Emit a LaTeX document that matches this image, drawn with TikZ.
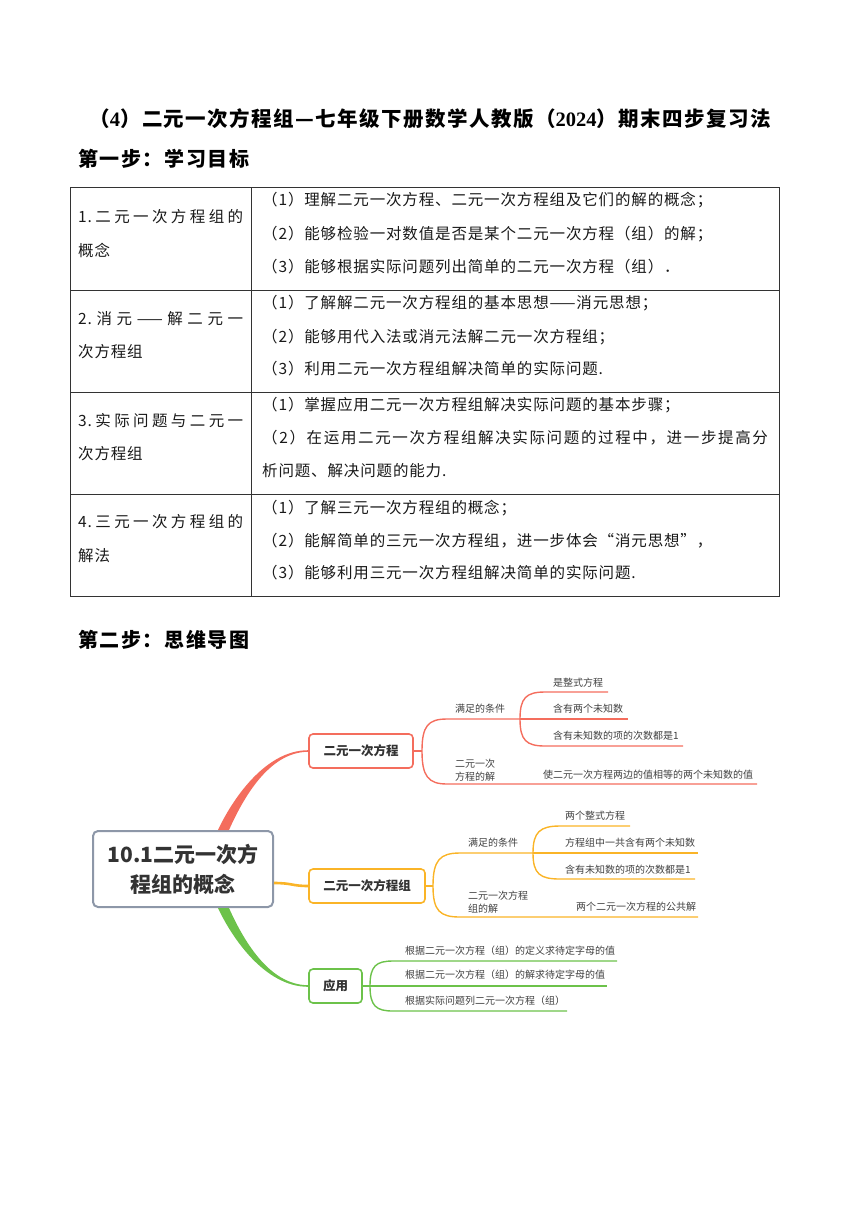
\documentclass[tikz,border=0pt]{standalone}
\usepackage{fontspec}
\setmainfont{Noto Sans CJK SC}
\newfontfamily\serifnum{Liberation Serif}
\usetikzlibrary{calc}
\definecolor{cred}{HTML}{F46D5D}
\definecolor{corg}{HTML}{FAB427}
\definecolor{cgrn}{HTML}{6CC24A}
\definecolor{cgray}{HTML}{8D97A8}
\definecolor{ctxt}{HTML}{333333}
\tikzset{
 tline/.style={draw=black!80, line width=0.8pt},
 ttext/.style={anchor=west, inner sep=0pt, font=\fontsize{15.5}{18}\selectfont\addfontfeature{LetterSpace=5.5}, text=black!90},
 head/.style={anchor=west, inner sep=0pt, font=\fontsize{20}{24}\selectfont\bfseries\addfontfeature{LetterSpace=8}},
 branch/.style={draw=#1, line width=1.6pt, rounded corners=4pt, fill=white, minimum height=34pt, inner sep=0pt, font=\fontsize{12.5}{14}\selectfont\bfseries, text=ctxt},
 sub/.style={line width=1.4pt, draw=#1},
 lbl/.style={anchor=west, inner sep=0pt, font=\fontsize{10}{13}\selectfont, text=black!75, align=left},
}
\begin{document}
\begin{tikzpicture}[x=1pt,y=-1pt]
\useasboundingbox (0,0) rectangle (860,1216);
% title and headings
\node[inner sep=0pt, font=\fontsize{20.5}{24}\selectfont\bfseries\addfontfeature{LetterSpace=7}] (title) at (430,119) {（{\serifnum 4}）二元一次方程组—七年级下册数学人教版（{\serifnum 2024}）期末四步复习法};
\node[head] (h1) at (78,159) {第一步：学习目标};
\node[head] (h2) at (78,640) {第二步：思维导图};
% table
\draw[tline] (70,187) rectangle (779,596);
\draw[tline] (251,187) -- (251,596);
\foreach \yy in {290,392,494} \draw[tline] (70,\yy) -- (779,\yy);
% left column
\node[ttext] (l1a) at (78,217) {\makebox[165pt][s]{1.\hfill 二\hfill 元\hfill 一\hfill 次\hfill 方\hfill 程\hfill 组\hfill 的}};
\node[ttext] (l1b) at (78,250) {概念};
\node[ttext] (l2a) at (78,319) {\makebox[165pt][s]{2.\hfill 消\hfill 元\hfill ——\hfill 解\hfill 二\hfill 元\hfill 一}};
\node[ttext] (l2b) at (78,352) {次方程组};
\node[ttext] (l3a) at (78,421) {\makebox[165pt][s]{3.\hfill 实\hfill 际\hfill 问\hfill 题\hfill 与\hfill 二\hfill 元\hfill 一}};
\node[ttext] (l3b) at (78,454) {次方程组};
\node[ttext] (l4a) at (78,522) {\makebox[165pt][s]{4.\hfill 三\hfill 元\hfill 一\hfill 次\hfill 方\hfill 程\hfill 组\hfill 的}};
\node[ttext] (l4b) at (78,556) {解法};
% right column
\node[ttext] (r11) at (262,200) {（1）理解二元一次方程、二元一次方程组及它们的解的概念；};
\node[ttext] (r12) at (262,234) {（2）能够检验一对数值是否是某个二元一次方程（组）的解；};
\node[ttext] (r13) at (262,267) {（3）能够根据实际问题列出简单的二元一次方程（组）．};
\node[ttext] (r21) at (262,303) {（1）了解解二元一次方程组的基本思想——消元思想；};
\node[ttext] (r22) at (262,337) {（2）能够用代入法或消元法解二元一次方程组；};
\node[ttext] (r23) at (262,369) {（3）利用二元一次方程组解决简单的实际问题.};
\node[ttext] (r31) at (262,405) {（1）掌握应用二元一次方程组解决实际问题的基本步骤；};
\node[ttext, font=\fontsize{15.5}{18}\selectfont\addfontfeature{LetterSpace=10.6}] (r32) at (262,438) {（2）在运用二元一次方程组解决实际问题的过程中，进一步提高分};
\node[ttext] (r33) at (262,471) {析问题、解决问题的能力.};
\node[ttext] (r41) at (262,508) {（1）了解三元一次方程组的概念；};
\node[ttext] (r42) at (262,541) {（2）能解简单的三元一次方程组，进一步体会“消元思想”，};
\node[ttext] (r43) at (262,573) {（3）能够利用三元一次方程组解决简单的实际问题.};
% mind map nodes
\node[draw=cgray, line width=2pt, rounded corners=5pt, fill=white, minimum width=180pt, minimum height=76pt, inner sep=0pt, align=center, text=ctxt, font=\fontsize{21}{30}\selectfont\bfseries] (c) at (183,869) {10.1二元一次方\\程组的概念};
\node[branch=cred, minimum width=104pt] (b1) at (361,751) {二元一次方程};
\node[branch=corg, minimum width=116pt] (b2) at (367,886) {二元一次方程组};
\node[branch=cgrn, minimum width=53pt] (b3) at (335.5,986) {应用};
% main connectors
\fill[cred] ([xshift=35pt]c.north) .. controls (232,800) and (265,750.2) .. ([yshift=0.8pt]b1.west) -- ([yshift=-0.8pt]b1.west) .. controls (268,751.8) and (242,801) .. ([xshift=46pt]c.north) -- cycle;
\fill[cgrn] ([xshift=35pt]c.south) .. controls (232,938) and (265,986.8) .. ([yshift=-0.8pt]b3.west) -- ([yshift=0.8pt]b3.west) .. controls (268,985.2) and (242,937) .. ([xshift=46pt]c.south) -- cycle;
\draw[corg, line width=2.6pt] ([yshift=-14pt]c.east) .. controls (292,883) and (292,886) .. (b2.west);
% red sub-branches
\coordinate (rf) at (422,751);
\coordinate (rf2) at (520,719);
\draw[sub=cred] (b1.east) -- (rf);
\draw[sub=cred] (rf) .. controls (422,726) and (428,719) .. (447,719) -- (rf2);
\draw[sub=cred] (rf) .. controls (422,776) and (428,784) .. (447,784) -- (757,784);
\draw[sub=cred] (rf2) .. controls (520,698) and (526,692) .. (545,692) -- (608,692);
\draw[sub=cred] (rf2) -- (628,719);
\draw[sub=cred] (rf2) .. controls (520,740) and (526,746) .. (545,746) -- (683,746);
\node[lbl] (rl1) at (455,709) {满足的条件};
\node[lbl] (rl2) at (455,770) {二元一次\\方程的解};
\node[lbl] (rt1) at (553,683) {是整式方程};
\node[lbl] (rt2) at (553,709) {含有两个未知数};
\node[lbl] (rt3) at (553,736) {含有未知数的项的次数都是1};
\node[lbl] (rt4) at (543,775) {使二元一次方程两边的值相等的两个未知数的值};
% orange sub-branches
\coordinate (of) at (433,886);
\coordinate (of2) at (533,853);
\draw[sub=corg] (b2.east) -- (of);
\draw[sub=corg] (of) .. controls (433,860) and (440,853) .. (460,853) -- (of2);
\draw[sub=corg] (of) .. controls (433,911) and (440,917) .. (460,917) -- (698,917);
\draw[sub=corg] (of2) .. controls (533,832) and (540,826) .. (560,826) -- (630,826);
\draw[sub=corg] (of2) -- (698,853);
\draw[sub=corg] (of2) .. controls (533,874) and (540,879) .. (560,879) -- (695,879);
\node[lbl] (ol1) at (468,843) {满足的条件};
\node[lbl] (ol2) at (468,902) {二元一次方程\\组的解};
\node[lbl] (ot1) at (565,816) {两个整式方程};
\node[lbl] (ot2) at (565,843) {方程组中一共含有两个未知数};
\node[lbl] (ot3) at (565,870) {含有未知数的项的次数都是1};
\node[lbl] (ot4) at (576,907) {两个二元一次方程的公共解};
% green sub-branches
\coordinate (gf) at (370,986);
\draw[sub=cgrn] (b3.east) -- (gf);
\draw[sub=cgrn] (gf) .. controls (370,966) and (376,961) .. (393,961) -- (617,961);
\draw[sub=cgrn] (gf) -- (607,986);
\draw[sub=cgrn] (gf) .. controls (370,1006) and (376,1011) .. (393,1011) -- (567,1011);
\node[lbl] (gt1) at (405,951) {根据二元一次方程（组）的定义求待定字母的值};
\node[lbl] (gt2) at (405,975) {根据二元一次方程（组）的解求待定字母的值};
\node[lbl] (gt3) at (405,1001) {根据实际问题列二元一次方程（组）};
\end{tikzpicture}
\end{document}
